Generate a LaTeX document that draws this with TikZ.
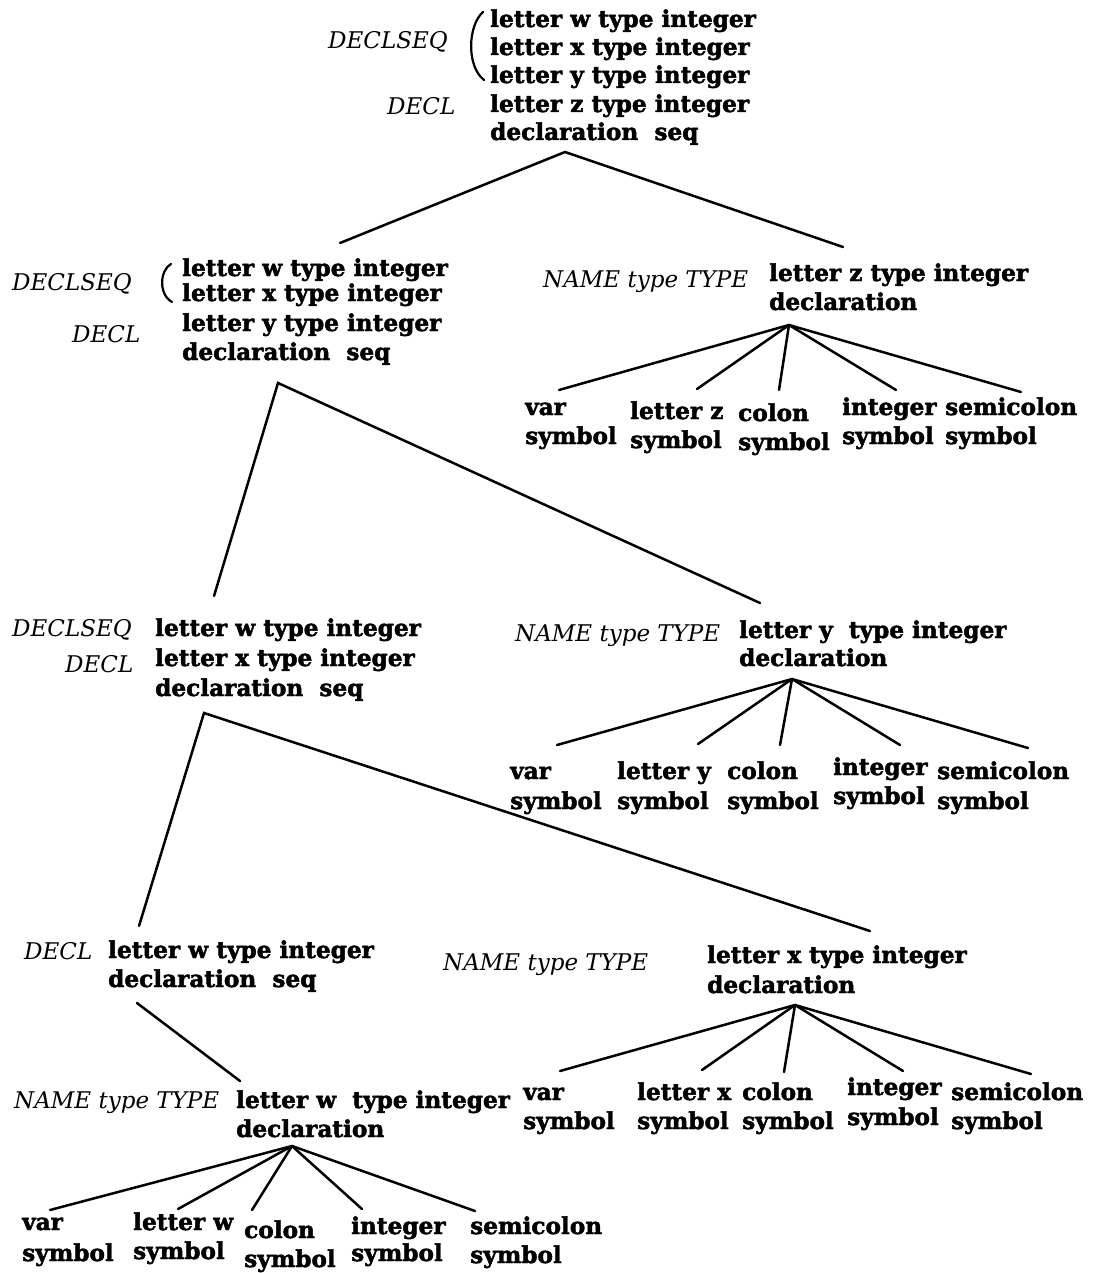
\documentclass[tikz,border=0pt]{standalone}
\usepackage{fontspec}
\setmainfont{DejaVu Serif}[BoldFeatures={FakeBold=2}]
\begin{document}
\begin{tikzpicture}[x=1pt,y=-1pt,
  bt/.style={font=\fontsize{23.2}{28}\selectfont\bfseries, anchor=base west, inner sep=0pt},
  it/.style={font=\fontsize{23}{28}\selectfont\itshape, anchor=base west, inner sep=0pt},
  edge/.style={line width=2.5pt, line cap=round},
  paren/.style={line width=2.2pt, line cap=round}]
\useasboundingbox (0,0) rectangle (1093,1273);
% ---------- level 1 ----------
\node[it] (l1seq) at (328,49) {DECLSEQ};
\node[it] (l1decl) at (387,115) {DECL};
\node[bt] (l1a) at (490,27) {letter w type integer};
\node[bt] (l1b) at (490,55) {letter x type integer};
\node[bt] (l1c) at (490,83) {letter y type integer};
\node[bt] (l1d) at (490,112) {letter z type integer};
\node[bt] (l1e) at (490,140) {declaration\ \ seq};
\draw[paren] (483,12) .. controls (468,25) and (466,66) .. (484,80);
\coordinate (r1) at (565,152);
\coordinate (r1l) at (340,243);
\coordinate (r1r) at (843,247);
\draw[edge] (r1l) -- (r1) -- (r1r);
% ---------- level 2 left ----------
\node[it] (l2seq) at (12,290) {DECLSEQ};
\node[it] (l2decl) at (72,342) {DECL};
\node[bt] (l2a) at (182,276) {letter w type integer};
\node[bt] (l2b) at (182,301) {letter x type integer};
\node[bt] (l2c) at (182,331) {letter y type integer};
\node[bt] (l2d) at (182,360) {declaration\ \ seq};
\draw[paren] (171,264) .. controls (160,270) and (158,294) .. (172,302);
\coordinate (r2) at (278,383);
\coordinate (r2l) at (214,596);
\coordinate (r2r) at (760,603);
\draw[edge] (r2l) -- (r2) -- (r2r);
% ---------- level 2 right ----------
\node[it] (n2) at (543,287) {NAME type TYPE};
\node[bt] (z2a) at (769,281) {letter z type integer};
\node[bt] (z2b) at (769,310) {declaration};
\coordinate (f2) at (789,325);
\node[bt] (f2a1) at (525,415) {var};
\node[bt] (f2a2) at (525,444) {symbol};
\node[bt] (f2b1) at (630,419) {letter z};
\node[bt] (f2b2) at (630,448) {symbol};
\node[bt] (f2c1) at (738,421) {colon};
\node[bt] (f2c2) at (738,450) {symbol};
\node[bt] (f2d1) at (842,415) {integer};
\node[bt] (f2d2) at (842,444) {symbol};
\node[bt] (f2e1) at (945,415) {semicolon};
\node[bt] (f2e2) at (945,444) {symbol};
\coordinate (f2a) at (559,390);
\coordinate (f2b) at (697,389);
\coordinate (f2c) at (779,390);
\coordinate (f2d) at (896,390);
\coordinate (f2e) at (1021,392);
\foreach \t in {f2a,f2b,f2c,f2d,f2e} \draw[edge] (f2) -- (\t);
% ---------- level 3 left ----------
\node[it] (l3seq) at (12,636) {DECLSEQ};
\node[it] (l3decl) at (65,672) {DECL};
\node[bt] (l3a) at (155,636) {letter w type integer};
\node[bt] (l3b) at (155,666) {letter x type integer};
\node[bt] (l3c) at (155,696) {declaration\ \ seq};
\coordinate (r3) at (204,713);
\coordinate (r3l) at (139,926);
\coordinate (r3r) at (870,931);
\draw[edge] (r3l) -- (r3) -- (r3r);
% ---------- level 3 right ----------
\node[it] (n3) at (515,641) {NAME type TYPE};
\node[bt] (y3a) at (739,638) {letter y\ \ type integer};
\node[bt] (y3b) at (739,666) {declaration};
\coordinate (f3) at (792,679);
\node[bt] (f3a1) at (510,779) {var};
\node[bt] (f3a2) at (510,809) {symbol};
\node[bt] (f3b1) at (617,779) {letter y};
\node[bt] (f3b2) at (617,809) {symbol};
\node[bt] (f3c1) at (727,779) {colon};
\node[bt] (f3c2) at (727,809) {symbol};
\node[bt] (f3d1) at (833,775) {integer};
\node[bt] (f3d2) at (833,804) {symbol};
\node[bt] (f3e1) at (937,779) {semicolon};
\node[bt] (f3e2) at (937,809) {symbol};
\coordinate (f3a) at (557,745);
\coordinate (f3b) at (698,744);
\coordinate (f3c) at (780,745);
\coordinate (f3d) at (900,745);
\coordinate (f3e) at (1028,748);
\foreach \t in {f3a,f3b,f3c,f3d,f3e} \draw[edge] (f3) -- (\t);
% ---------- level 4 left ----------
\node[it] (l4decl) at (24,959) {DECL};
\node[bt] (l4a) at (108,958) {letter w type integer};
\node[bt] (l4b) at (108,987) {declaration\ \ seq};
\coordinate (r4) at (137,1003);
\coordinate (r4c) at (240,1081);
\draw[edge] (r4) -- (r4c);
% ---------- level 4 right ----------
\node[it] (n4) at (443,970) {NAME type TYPE};
\node[bt] (x4a) at (707,963) {letter x type integer};
\node[bt] (x4b) at (707,993) {declaration};
\coordinate (f4) at (795,1005);
\node[bt] (f4a1) at (523,1100) {var};
\node[bt] (f4a2) at (523,1129) {symbol};
\node[bt] (f4b1) at (637,1100) {letter x};
\node[bt] (f4b2) at (637,1129) {symbol};
\node[bt] (f4c1) at (742,1100) {colon};
\node[bt] (f4c2) at (742,1129) {symbol};
\node[bt] (f4d1) at (847,1095) {integer};
\node[bt] (f4d2) at (847,1125) {symbol};
\node[bt] (f4e1) at (951,1100) {semicolon};
\node[bt] (f4e2) at (951,1129) {symbol};
\coordinate (f4a) at (560,1071);
\coordinate (f4b) at (702,1070);
\coordinate (f4c) at (784,1072);
\coordinate (f4d) at (903,1071);
\coordinate (f4e) at (1031,1074);
\foreach \t in {f4a,f4b,f4c,f4d,f4e} \draw[edge] (f4) -- (\t);
% ---------- level 5 ----------
\node[it] (n5) at (14,1108) {NAME type TYPE};
\node[bt] (w5a) at (236,1108) {letter w\ \ type integer};
\node[bt] (w5b) at (236,1137) {declaration};
\coordinate (f5) at (292,1146);
\node[bt] (f5a1) at (22,1230) {var};
\node[bt] (f5a2) at (22,1261) {symbol};
\node[bt] (f5b1) at (133,1230) {letter w};
\node[bt] (f5b2) at (133,1259) {symbol};
\node[bt] (f5c1) at (244,1238) {colon};
\node[bt] (f5c2) at (244,1267) {symbol};
\node[bt] (f5d1) at (351,1234) {integer};
\node[bt] (f5d2) at (351,1261) {symbol};
\node[bt] (f5e1) at (470,1234) {semicolon};
\node[bt] (f5e2) at (470,1263) {symbol};
\coordinate (f5a) at (50,1210);
\coordinate (f5b) at (178,1209);
\coordinate (f5c) at (252,1210);
\coordinate (f5d) at (362,1209);
\coordinate (f5e) at (475,1211);
\foreach \t in {f5a,f5b,f5c,f5d,f5e} \draw[edge] (f5) -- (\t);
\end{tikzpicture}
\end{document}
